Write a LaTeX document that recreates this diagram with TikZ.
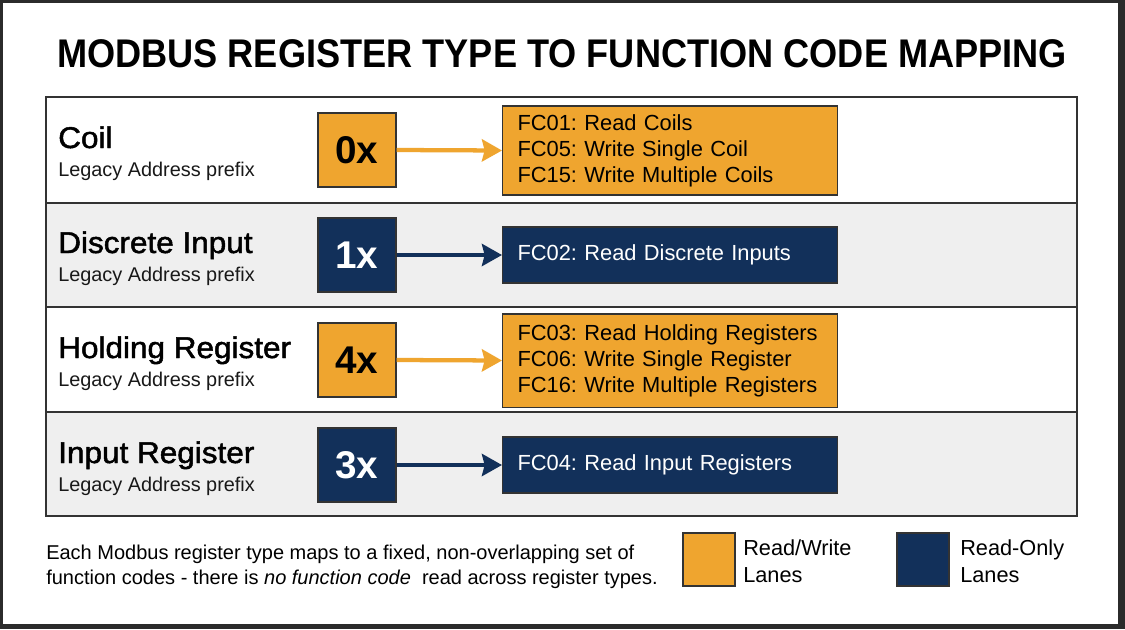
\documentclass[tikz,border=0pt]{standalone}
\usepackage{fontspec}
\setmainfont{Liberation Sans}
\usetikzlibrary{arrows.meta}
\frenchspacing
\definecolor{frame}{HTML}{2B2B2B}
\definecolor{org}{HTML}{EFA52F}
\definecolor{navy}{HTML}{12305A}
\definecolor{rowgray}{HTML}{EFEFEF}
\definecolor{edge}{HTML}{333333}
\newcommand{\lblfont}{\addfontfeature{FakeBold=1.6}\fontsize{22.5}{26}\selectfont}
\tikzset{
  lbl/.style={anchor=base west, inner sep=0pt, font=\lblfont, text=black},
  sub/.style={anchor=base west, inner sep=0pt, font=\fontsize{14.9}{17}\selectfont, text=black!90},
  prefbox/.style={draw=edge, line width=1pt, minimum width=58.5pt, minimum height=55.5pt, inner sep=0pt, font=\bfseries\fontsize{29}{32}\selectfont},
  orgbox/.style={prefbox, fill=org, text=black},
  navybox/.style={prefbox, fill=navy, text=white},
  fcbox/.style={draw=edge, line width=1pt, minimum width=251.25pt, inner sep=0pt, anchor=west, font=\fontsize{16.4}{19.5}\selectfont, align=left, text width=229pt},
  fcorg/.style={fcbox, fill=org, text=black},
  fcnavy/.style={fcbox, fill=navy, text=white},
  arr/.style={line width=3.2pt, -{Stealth[length=15pt, width=16.5pt, inset=2pt]}},
  rowline/.style={draw=edge, line width=1.5pt}
}
\begin{document}
\begin{tikzpicture}[x=0.75pt, y=-0.75pt]
\useasboundingbox (0,0) rectangle (1125,629);
\fill[frame] (0,0) rectangle (1125,629);
\fill[white] (3,3) rectangle (1118,624);
% title
\node[anchor=base, inner sep=0pt, font=\bfseries\fontsize{30}{34}\selectfont] (title) at (562,67) {\scalebox{0.904}[1]{MODBUS REGISTER TYPE TO FUNCTION CODE MAPPING}};
% rows
\fill[white] (46,97) rectangle (1077,203);
\fill[rowgray] (46,203) rectangle (1077,307);
\fill[white] (46,307) rectangle (1077,412);
\fill[rowgray] (46,412) rectangle (1077,516);
\draw[rowline] (46,203) -- (1077,203);
\draw[rowline] (46,307) -- (1077,307);
\draw[rowline] (46,412) -- (1077,412);
\draw[draw=edge, line width=1.3pt] (46,97) rectangle (1077,516);
% labels
\node[lbl] (l1) at (58,148) {\scalebox{1.05}[1]{Coil}};
\node[sub] (s1) at (58,176) {Legacy Address prefix};
\node[lbl] (l2) at (58,253) {\scalebox{1.05}[1]{Discrete Input}};
\node[sub] (s2) at (58,281) {Legacy Address prefix};
\node[lbl] (l3) at (58,358) {\scalebox{1.05}[1]{Holding Register}};
\node[sub] (s3) at (58,386) {Legacy Address prefix};
\node[lbl] (l4) at (58,463) {\scalebox{1.05}[1]{Input Register}};
\node[sub] (s4) at (58,491) {Legacy Address prefix};
% prefix boxes
\node[orgbox] (p1) at (357,150) {0x};
\node[navybox] (p2) at (357,255) {1x};
\node[orgbox] (p3) at (357,360) {4x};
\node[navybox] (p4) at (357,465) {3x};
% FC boxes
\node[fcorg, minimum height=66.75pt] (f1) at (502,150.5) {FC01: Read Coils\\FC05: Write Single Coil\\FC15: Write Multiple Coils};
\node[fcnavy, minimum height=42pt] (f2) at (502,255) {FC02: Read Discrete Inputs};
\node[fcorg, minimum height=70pt] (f3) at (502,360.5) {FC03: Read Holding Registers\\FC06: Write Single Register\\FC16: Write Multiple Registers};
\node[fcnavy, minimum height=42pt] (f4) at (502,465) {FC04: Read Input Registers};
% arrows
\draw[arr, org] (p1.east) -- (f1.west);
\draw[arr, navy] (p2.east) -- (f2.west);
\draw[arr, org] (p3.east) -- (f3.west);
\draw[arr, navy] (p4.east) -- (f4.west);
% footer
\node[anchor=base west, inner sep=0pt, font=\fontsize{15}{18.75}\selectfont, align=left] (note) at (46,584) {Each Modbus register type maps to a fixed, non-overlapping set of\\function codes - there is \textit{no function code}\ \ read across register types.};
% legend
\node[draw=edge, line width=0.8pt, fill=org, minimum width=39pt, minimum height=39.75pt, inner sep=0pt] (lo) at (709,559.5) {};
\node[anchor=base west, inner sep=0pt, font=\fontsize{16.3}{20}\selectfont, align=left] (lot) at (743,582) {Read/Write\\Lanes};
\node[draw=edge, line width=0.8pt, fill=navy, minimum width=39pt, minimum height=39.75pt, inner sep=0pt] (ln) at (923,559.5) {};
\node[anchor=base west, inner sep=0pt, font=\fontsize{16.3}{20}\selectfont, align=left] (lnt) at (960,582) {Read-Only\\Lanes};
\end{tikzpicture}
\end{document}
